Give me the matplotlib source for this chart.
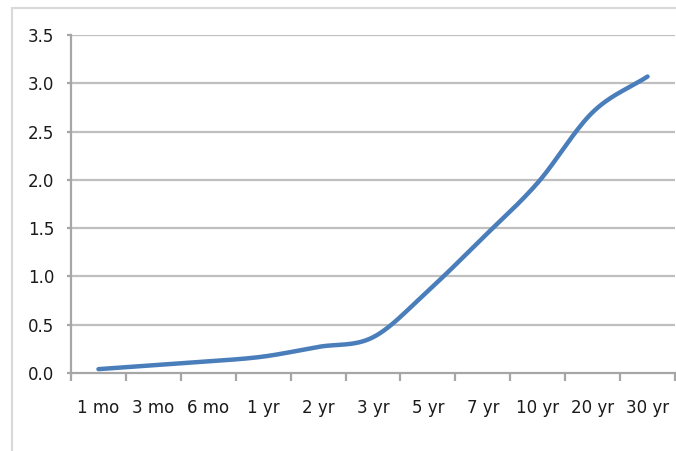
import numpy as np
import matplotlib
matplotlib.use("Agg")
import matplotlib.pyplot as plt
from matplotlib.patches import Rectangle

# Treasury yield curve
maturities = ["1 mo", "3 mo", "6 mo", "1 yr", "2 yr", "3 yr", "5 yr", "7 yr", "10 yr", "20 yr", "30 yr"]
yields = [0.04, 0.08, 0.12, 0.17, 0.27, 0.37, 0.85, 1.40, 1.97, 2.70, 3.07]
y_ticks = [0.0, 0.5, 1.0, 1.5, 2.0, 2.5, 3.0, 3.5]
y_tick_labels = ["0.0", "0.5", "1.0", "1.5", "2.0", "2.5", "3.0", "3.5"]


def smooth_curve(x, y, steps=30):
    """Catmull-Rom spline through the points, like a smoothed line chart."""
    x = np.asarray(x, float)
    y = np.asarray(y, float)
    px = np.concatenate([[2 * x[0] - x[1]], x, [2 * x[-1] - x[-2]]])
    py = np.concatenate([[2 * y[0] - y[1]], y, [2 * y[-1] - y[-2]]])
    xs, ys = [], []
    t = np.linspace(0, 1, steps, endpoint=False)
    for i in range(1, len(px) - 2):
        p0, p1, p2, p3 = (np.array([px[j], py[j]]) for j in range(i - 1, i + 3))
        seg = 0.5 * ((2 * p1)[:, None]
                     + (-p0 + p2)[:, None] * t
                     + (2 * p0 - 5 * p1 + 4 * p2 - p3)[:, None] * t ** 2
                     + (-p0 + 3 * p1 - 3 * p2 + p3)[:, None] * t ** 3)
        xs.extend(seg[0]); ys.extend(seg[1])
    xs.append(x[-1]); ys.append(y[-1])
    return np.array(xs), np.array(ys)


fig = plt.figure(figsize=(6.76, 4.51), dpi=100)
fig.patch.set_facecolor("white")

# chart area border
fig.add_artist(Rectangle((12 / 676, -0.05), 1.0, (451 - 8) / 451 + 0.05,
                         transform=fig.transFigure, fill=False,
                         edgecolor="#D9D9D9", linewidth=1.5))

ax = fig.add_axes([71 / 676, 78 / 451, 604 / 676, 338 / 451])

xpos = np.arange(len(maturities))
sx, sy = smooth_curve(xpos, yields)
ax.plot(sx, sy, color="#4A7EBB", linewidth=3.2, solid_capstyle="round", zorder=3)

ax.set_xlim(-0.5, len(maturities) - 0.5)
ax.set_ylim(0, 3.5)

ax.set_yticks(y_ticks)
ax.set_yticklabels(y_tick_labels)
ax.set_xticks(xpos)
ax.set_xticklabels(maturities)
ax.set_xticks(np.arange(-0.5, len(maturities), 1.0), minor=True)

for yv in y_ticks[1:]:
    ax.axhline(yv, color="#BFBFBF", linewidth=1.6, zorder=1)

for side in ["top", "right"]:
    ax.spines[side].set_visible(False)
for side in ["left", "bottom"]:
    ax.spines[side].set_color("#A6A6A6")
    ax.spines[side].set_linewidth(1.6)

ax.tick_params(axis="x", which="major", length=0, pad=19,
               labelsize=12, labelcolor="#1a1a1a")
ax.tick_params(axis="x", which="minor", length=6, width=1.6, color="#A6A6A6",
               direction="out")
ax.tick_params(axis="y", which="major", length=3, width=1.6, color="#A6A6A6",
               pad=9, labelsize=12, labelcolor="#1a1a1a")
for lbl in ax.get_xticklabels() + ax.get_yticklabels():
    lbl.set_fontfamily("DejaVu Sans")

fig.savefig("out.png", dpi=100, facecolor="white")
